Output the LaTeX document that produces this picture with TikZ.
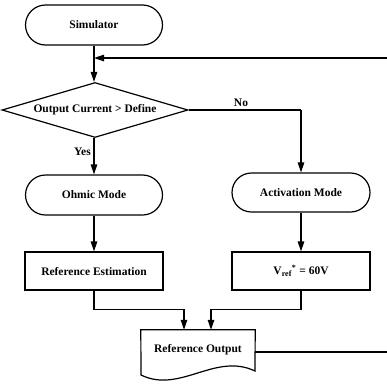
\documentclass[tikz,border=0pt]{standalone}
\usepackage{fontspec}
\setmainfont{Liberation Serif}
\usetikzlibrary{shapes.misc,shapes.geometric,arrows.meta}
\tikzset{
  base/.style={draw, line width=1.2pt, font=\fontsize{11.5}{13}\selectfont\bfseries, inner sep=0pt, align=center},
  term/.style={base, rounded rectangle, minimum width=137pt, minimum height=40pt},
  procbox/.style={base, rectangle, minimum width=138pt, minimum height=38pt},
  decis/.style={base, diamond, aspect=3.4, minimum width=186pt, minimum height=55pt},
  arr/.style={line width=1.2pt, -{Triangle[length=10pt,width=6.5pt]}},
  conn/.style={line width=1.2pt},
  lbl/.style={font=\fontsize{11.5}{13}\selectfont\bfseries, inner sep=1pt}
}
\begin{document}
\begin{tikzpicture}[x=1pt,y=-1pt]
\useasboundingbox (0,0) rectangle (387,383);
\node[term] (sim) at (94,25) {Simulator};
\node[decis] (dec) at (95,110) {Output Current > Define};
\node[term] (ohm) at (94,195) {Ohmic Mode};
\node[term, minimum width=138pt, minimum height=39pt] (act) at (301,192.5) {Activation Mode};
\node[procbox] (est) at (94,271) {Reference Estimation};
\node[procbox] (vref) at (301,271) {V\textsubscript{ref}\textsuperscript{*} = 60V};
\node[minimum width=114pt, minimum height=44pt, inner sep=0pt] (out) at (198,352) {};
\node[lbl] (outtxt) at (198,350) {Reference Output};
\draw[line width=1.2pt] (out.north west) -- (out.north east) -- (255,371)
  .. controls (215,352) and (180,394) .. (141,375) -- cycle;
\coordinate (fbR) at (387,58);
\coordinate (j) at (94,58);
\coordinate (outR) at (387,352);
\node[lbl, anchor=south] (no) at (241,108) {No};
\node[lbl, anchor=east] (yes) at (92,152) {Yes};
\draw[arr] (sim.south) -- (dec.north -| sim.south);
\draw[arr] (fbR) -- (j);
\draw[conn] (dec.east) -- (dec.east -| act.north);
\draw[arr] (dec.east -| act.north) -- (act.north);
\draw[arr] (dec.south -| ohm.north) -- (ohm.north);
\draw[arr] (ohm.south) -- (est.north);
\draw[arr] (act.south) -- (vref.north);
\draw[arr] (est.south) -- ++(0,19) -| ([xshift=-14pt]out.north);
\draw[arr] (vref.south) -- ++(0,19) -| ([xshift=13pt]out.north);
\draw[conn] (out.east) -- (outR);
\end{tikzpicture}
\end{document}
